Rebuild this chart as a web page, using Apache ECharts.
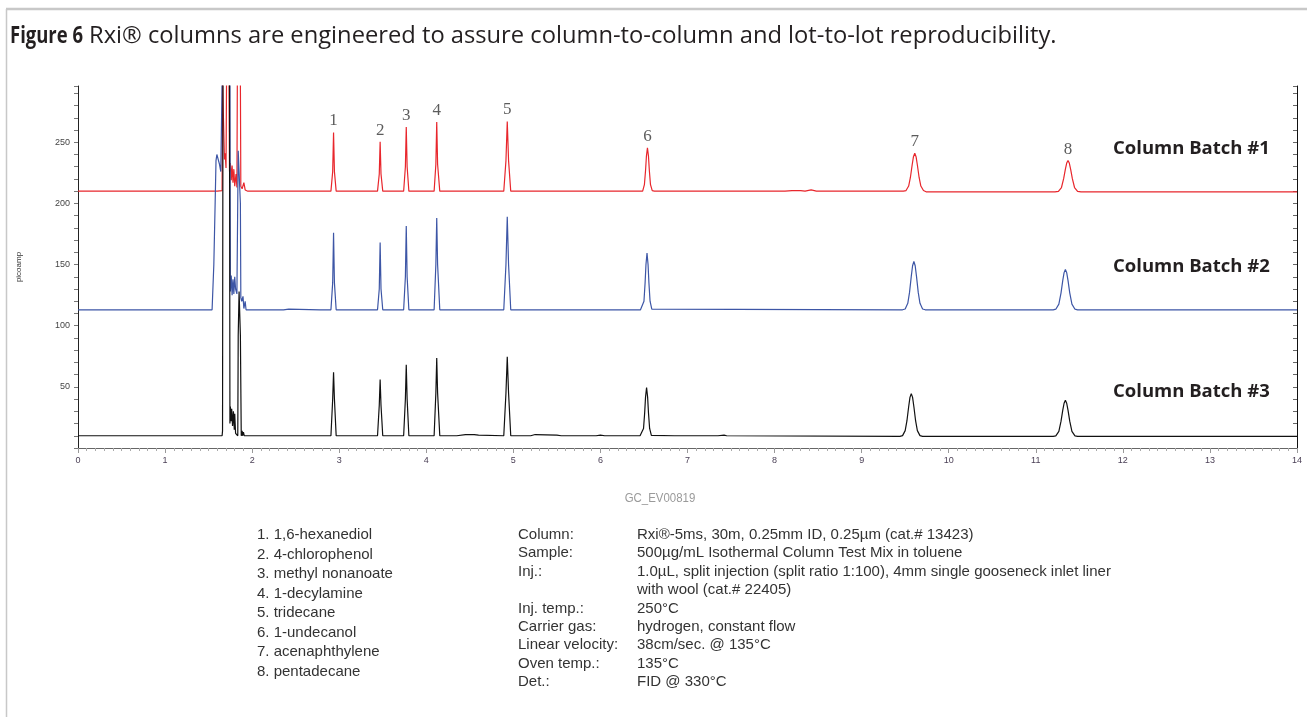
<!DOCTYPE html>
<html>
<head>
<meta charset="utf-8">
<script src="https://cdn.jsdelivr.net/npm/echarts@6/dist/echarts.min.js"></script>
<style>
html,body{margin:0;padding:0;background:#fff;}
#chart{width:1307px;height:717px;}
</style>
</head>
<body>
<div id="chart"></div>
<script>
// ---- Data (retention time in min, signal in picoamp) ----
const batch1 = [
  [0,210],[1.6,210],[1.655,210.5],[1.66,300],[1.678,300],[1.682,236],[1.69,241],[1.70,229],[1.706,300],[1.735,300],
  [1.74,226],[1.75,233],[1.76,219],[1.77,231],[1.78,217],[1.79,228],[1.80,214],[1.815,224],[1.825,213],[1.83,300],
  [1.865,300],[1.87,214],[1.885,212],[1.905,217],[1.92,211],[1.95,210],[2.1,210],[2.12,211.5],[2.14,210],
  [2.905,210],[2.925,226],[2.935,258],[2.945,226],[2.965,210],
  [3.44,210],[3.46,224],[3.47,250.5],[3.48,224],[3.50,210],
  [3.74,210],[3.76,230],[3.77,262.5],[3.78,230],[3.80,210],
  [4.09,210],[4.11,232],[4.12,266.5],[4.13,232],[4.155,210],
  [4.89,210],[4.915,235],[4.93,267],[4.945,235],[4.97,210],
  [6.485,210],[6.505,215.3],[6.518,226.7],[6.528,238.4],[6.54,245.5],[6.552,238.4],[6.562,226.7],[6.575,215.3],[6.595,210.4],[6.62,210],
  [8.08,210],[8.09,211],[8.12,210],[8.2,210.5],[8.3,210.5],[8.35,210],[8.42,211],[8.48,210],
  [9.48,210],[9.51,210.5],[9.54,214.2],[9.56,221.2],[9.58,231.4],[9.595,238.2],[9.61,241],[9.625,238.2],[9.64,231.4],[9.66,221.2],[9.68,214.2],[9.71,210.5],[9.74,209.5],
  [11.22,209.5],[11.26,209.9],[11.295,213],[11.32,220.2],[11.34,228.1],[11.355,233],[11.37,235],[11.385,233],[11.40,228.1],[11.42,220.2],[11.445,213],[11.48,209.9],[11.52,209.5],
  [14,209.5]
];
const batch2 = [
  [0,113],[1.54,113],[1.55,114],[1.56,150],[1.575,200],[1.585,235],[1.595,240],[1.61,236],[1.625,232],[1.64,226],
  [1.655,300],[1.745,300],[1.75,128],[1.76,141],[1.77,125],[1.78,138],[1.79,126],[1.80,140],[1.81,130],[1.825,126],
  [1.84,243],[1.855,243],[1.865,200],[1.87,123],[1.88,120],[1.895,124],[1.905,114],[1.92,120],[1.93,113],
  [2.12,113],[2.13,114],[2.14,113],[2.36,113],[2.38,114],[2.42,113.5],[2.44,113],[2.78,113],[2.8,114],[2.82,113],
  [2.905,113],[2.925,135],[2.935,176],[2.945,135],[2.965,113],
  [3.15,113],[3.16,114],[3.17,113],
  [3.44,113],[3.46,130],[3.47,168],[3.48,130],[3.50,113],
  [3.74,113],[3.76,140],[3.77,181.5],[3.78,140],[3.80,113],
  [4.09,113],[4.11,150],[4.12,188],[4.13,150],[4.155,113],
  [4.89,113],[4.915,150],[4.93,189],[4.945,150],[4.97,113],
  [6.46,113],[6.48,113.5],[6.50,120],[6.513,135],[6.523,150],[6.535,159.5],[6.547,150],[6.557,135],[6.57,120],[6.59,113.5],[6.61,113],
  [9.47,113],[9.50,113.7],[9.53,118.3],[9.55,127.2],[9.57,140.3],[9.585,149],[9.60,152.5],[9.615,149],[9.63,140.3],[9.65,127.2],[9.67,118.3],[9.70,113.7],[9.73,113],
  [11.20,113],[11.23,113.5],[11.265,117.6],[11.29,126.9],[11.31,137.1],[11.325,143.4],[11.34,146],[11.355,143.4],[11.37,137.1],[11.39,126.9],[11.415,117.6],[11.45,113.5],[11.48,113],
  [14,113]
];
const batch3 = [
  [0,10],[1.58,10],[1.59,11.5],[1.60,10],[1.655,10],[1.66,14],[1.665,300],[1.74,300],[1.745,20],[1.75,34],
  [1.76,22],[1.765,32],[1.775,18],[1.785,30],[1.795,15],[1.80,28],[1.81,12],[1.835,10],[1.84,92],[1.85,128],
  [1.86,128],[1.865,92],[1.875,10],[1.885,14],[1.89,10],[1.90,13],[1.91,10],[1.95,10],
  [2.905,10],[2.925,40],[2.935,62],[2.945,40],[2.965,10],
  [3.44,10],[3.46,35],[3.47,56],[3.48,35],[3.50,10],
  [3.74,10],[3.76,40],[3.77,68],[3.78,40],[3.80,10],
  [4.09,10],[4.11,45],[4.12,73.5],[4.13,45],[4.155,10],
  [4.35,10],[4.36,11],[4.45,11],[4.55,11],[4.6,10.5],[4.62,10],
  [4.89,10],[4.915,45],[4.93,74.5],[4.945,45],[4.97,10],
  [5.2,10],[5.25,11],[5.5,10.5],[5.55,10],[5.95,10],[6.0,10.5],[6.05,10],
  [6.455,10],[6.475,10.4],[6.495,16],[6.508,28.6],[6.518,41.6],[6.53,49.5],[6.542,41.6],[6.552,28.6],[6.565,16],[6.585,10.4],[6.605,10],
  [6.85,10],[6.86,11],[6.9,10],[7.35,10],[7.37,11.5],[7.42,10.5],[7.45,10],
  [9.44,9.5],[9.47,10.1],[9.50,14.2],[9.52,22.1],[9.54,33.7],[9.555,41.4],[9.57,44.5],[9.585,41.4],[9.60,33.7],[9.62,22.1],[9.64,14.2],[9.67,10.1],[9.70,9.5],
  [11.20,9.5],[11.23,9.9],[11.265,13.6],[11.29,21.9],[11.31,31],[11.325,36.6],[11.34,39],[11.355,36.6],[11.37,31],[11.39,21.9],[11.415,13.6],[11.45,9.9],[11.48,9.5],
  [14,9.5]
];
const peakNames = ['1','2','3','4','5','6','7','8'];
const peakTimes = [2.935,3.47,3.77,4.12,4.93,6.54,9.61,11.37];
const peakTops  = [258,250.5,262.5,266.5,267,245.5,241,235];
const seriesNames = ['Column Batch #1','Column Batch #2','Column Batch #3'];
const compounds = ['1. 1,6-hexanediol','2. 4-chlorophenol','3. methyl nonanoate','4. 1-decylamine',
  '5. tridecane','6. 1-undecanol','7. acenaphthylene','8. pentadecane'];
const condLabels = ['Column:','Sample:','Inj.:','','Inj. temp.:','Carrier gas:','Linear velocity:','Oven temp.:','Det.:'];
const condValues = ['Rxi\u00AE-5ms, 30m, 0.25mm ID, 0.25\u00B5m (cat.# 13423)',
  '500\u00B5g/mL Isothermal Column Test Mix in toluene',
  '1.0\u00B5L, split injection (split ratio 1:100), 4mm single gooseneck inlet liner',
  'with wool (cat.# 22405)','250\u00B0C','hydrogen, constant flow','38cm/sec. @ 135\u00B0C','135\u00B0C','FID @ 330\u00B0C'];

const chart = echarts.init(document.getElementById('chart'));
const peakLabelData = peakTimes.map((t,i)=>[t,peakTops[i],peakNames[i]]);
const smallFont = 'Liberation Sans, Arial, sans-serif';

const graphics = [
  {type:'line', shape:{x1:6,y1:9,x2:1307,y2:9}, style:{stroke:'#c8c8c8',lineWidth:2.5}},
  {type:'line', shape:{x1:6.5,y1:9,x2:6.5,y2:717}, style:{stroke:'#c8c8c8',lineWidth:1.5}},
  {type:'text', x:10, y:36, scaleX:0.77, style:{text:'Figure 6', verticalAlign:'middle',
    font:'bold 24px "Open Sans"', fill:'#231f20'}},
  {type:'text', x:89, y:36, scaleX:0.988, style:{
    text:'Rxi\u00AE columns are engineered to assure column-to-column and lot-to-lot reproducibility.',
    verticalAlign:'middle', font:'24px "Open Sans"', fill:'#231f20'}},
  {type:'text', x:660, y:498, scaleX:0.88, style:{text:'GC_EV00819', align:'center', verticalAlign:'middle',
    font:'13px '+smallFont, fill:'#9a9a9a'}}
];
[149,267,392].forEach((y,i)=>{
  graphics.push({type:'text', x:1113, y:y, style:{text:seriesNames[i], verticalAlign:'middle',
    font:'bold 18.5px "Open Sans"', fill:'#231f20'}});
});
compounds.forEach((s,i)=>{
  graphics.push({type:'text', x:257, y:535+i*19.5, style:{text:s, verticalAlign:'middle',
    font:'15px '+smallFont, fill:'#333'}});
});
condLabels.forEach((s,i)=>{
  graphics.push({type:'text', x:518, y:535+i*18.35, style:{text:s, verticalAlign:'middle',
    font:'15px '+smallFont, fill:'#333'}});
  graphics.push({type:'text', x:637, y:535+i*18.35, style:{text:condValues[i], verticalAlign:'middle',
    font:'15px '+smallFont, fill:'#333'}});
});

const yCommon = {type:'value', min:0, max:296, interval:50, splitLine:{show:false}};
chart.setOption({
  animation:false,
  backgroundColor:'#fff',
  grid:{left:78, right:10, top:86, bottom:269},
  xAxis:{type:'value', min:0, max:14, interval:1,
    axisLine:{show:true, lineStyle:{color:'#666', width:1}},
    axisTick:{show:true, length:5, lineStyle:{color:'#999'}},
    minorTick:{show:true, splitNumber:10, length:3, lineStyle:{color:'#aaa'}},
    splitLine:{show:false},
    axisLabel:{fontSize:9, color:'#4a3f55', margin:8, fontFamily:'Arial, Liberation Sans'}
  },
  yAxis:[
    Object.assign({}, yCommon, {position:'left',
      name:'picoamp', nameLocation:'middle', nameGap:55, nameRotate:90,
      nameTextStyle:{fontSize:8, color:'#333', fontFamily:'Arial, Liberation Sans'},
      axisLine:{show:true, lineStyle:{color:'#222', width:1}},
      axisTick:{show:true, length:4, lineStyle:{color:'#777'}},
      minorTick:{show:true, splitNumber:5, length:4, lineStyle:{color:'#777'}},
      axisLabel:{fontSize:9, color:'#444', margin:8, showMinLabel:false, showMaxLabel:false, fontFamily:'Arial, Liberation Sans'}
    }),
    Object.assign({}, yCommon, {position:'right',
      axisLine:{show:true, lineStyle:{color:'#111', width:1}},
      axisTick:{show:true, inside:true, length:4, lineStyle:{color:'#666'}},
      minorTick:{show:true, splitNumber:5, length:4, lineStyle:{color:'#666'}},
      axisLabel:{show:false}
    })
  ],
  series:[
    {name:seriesNames[0], type:'line', data:batch1, showSymbol:false, symbol:'none',
      lineStyle:{color:'#e8262c', width:1.2}, itemStyle:{color:'#e8262c'}, z:2},
    {name:seriesNames[1], type:'line', data:batch2, showSymbol:false, symbol:'none',
      lineStyle:{color:'#3d56a6', width:1.2}, itemStyle:{color:'#3d56a6'}, z:3},
    {name:seriesNames[2], type:'line', data:batch3, showSymbol:false, symbol:'none',
      lineStyle:{color:'#111111', width:1.2}, itemStyle:{color:'#111'}, z:4},
    {name:'peaks', type:'scatter', data:peakLabelData, symbolSize:0, z:5,
      label:{show:true, position:'top', distance:3, formatter:p=>p.value[2],
        fontFamily:'Liberation Serif, Times New Roman, serif', fontSize:17, color:'#333'}}
  ],
  graphic:graphics
});
</script>
</body>
</html>
